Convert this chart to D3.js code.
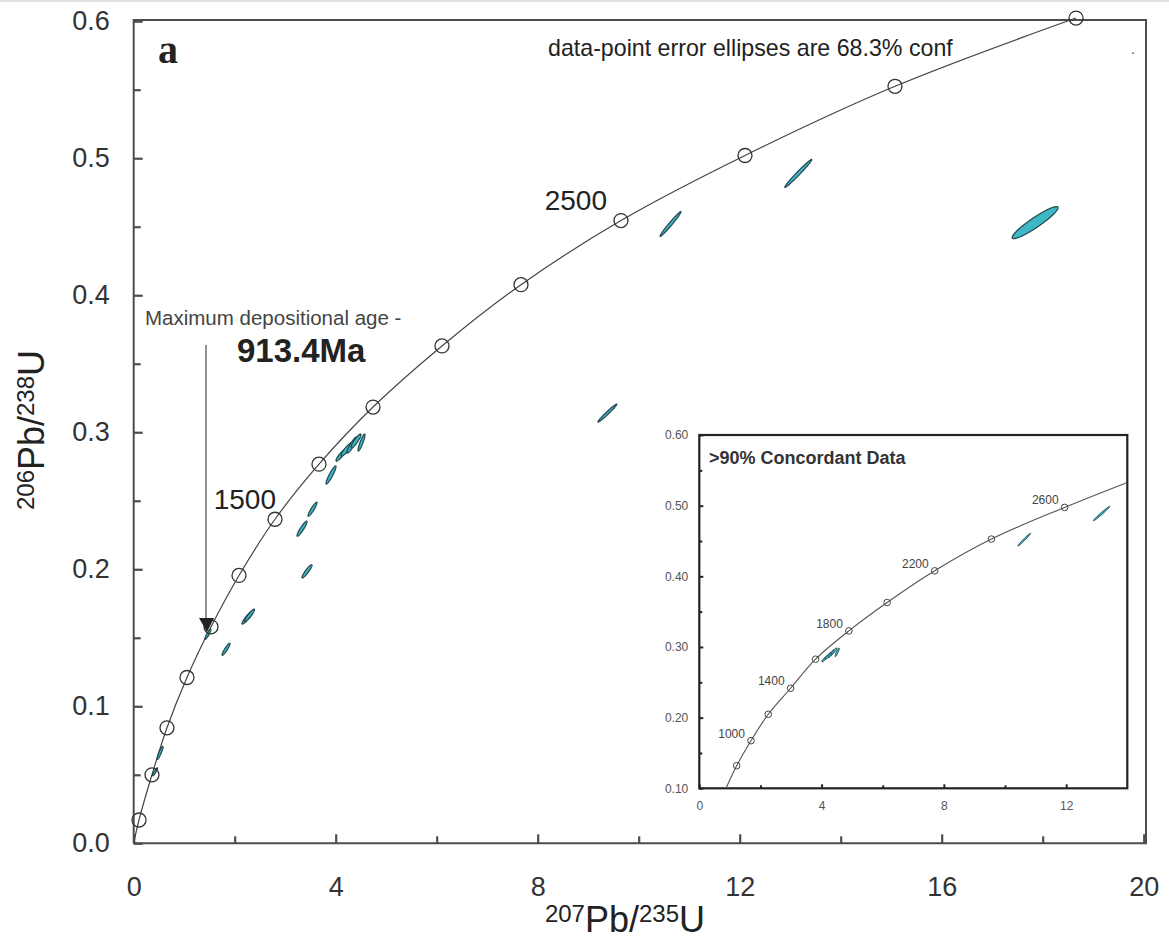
<!DOCTYPE html>
<html><head><meta charset="utf-8">
<script src="https://cdn.jsdelivr.net/npm/d3@7"></script>
<style>body{margin:0;background:#fff} svg{display:block}</style>
</head><body><svg id="c" width="1169" height="941"></svg>
<script>
// ---------------- DATA ----------------
// main concordia curve (207Pb/235U, 206Pb/238U)
const concX = [0, 0.105, 0.362, 0.659, 1.055, 1.531, 2.085, 2.798, 3.669, 4.739, 6.105, 7.669, 9.649, 12.105, 15.075, 18.66];
const concY = [0, 0.017, 0.050, 0.0843, 0.121, 0.158, 0.1955, 0.2365, 0.2767, 0.3184, 0.363, 0.4077, 0.4545, 0.502, 0.5525, 0.6023];
const concMarkerIdx = [1,2,3,4,5,6,7,8,9,10,11,12,13,14,15];
const concLabels = ["1500", "2500"];
const concLabelIdx = [7, 12];

// data-point error ellipses: centre, 1-sigma errors, error correlation
const ellX   = [17.85, 13.16, 10.63, 9.38, 3.907, 4.105, 4.224, 4.323, 4.402, 4.511, 3.541, 3.333, 3.432, 2.253, 2.293, 1.828, 1.471, 0.521, 0.422];
const ellY   = [0.453, 0.4889, 0.452, 0.314, 0.2688, 0.2833, 0.2877, 0.2907, 0.2936, 0.2925, 0.2438, 0.2296, 0.1985, 0.1648, 0.1663, 0.1416, 0.1526, 0.066, 0.0522];
const ellSX  = [0.455, 0.267, 0.208, 0.188, 0.099, 0.099, 0.119, 0.099, 0.099, 0.069, 0.089, 0.099, 0.099, 0.109, 0.10, 0.079, 0.059, 0.059, 0.05];
const ellSY  = [0.0117, 0.0102, 0.0091, 0.0066, 0.0066, 0.0044, 0.0051, 0.0059, 0.0051, 0.0062, 0.0051, 0.0055, 0.0048, 0.0048, 0.0046, 0.0044, 0.0037, 0.0048, 0.0029];
const ellRho = [0.93, 0.985, 0.982, 0.98, 0.92, 0.9, 0.9, 0.9, 0.9, 0.9, 0.92, 0.92, 0.92, 0.92, 0.92, 0.92, 0.9, 0.9, 0.9];
const ellConcordant = [false, true, true, false, false, true, true, true, true, true, false, false, false, false, false, false, false, false, false];

// inset concordia
const inConcX = [0.873, 1.222, 1.69, 2.255, 2.987, 3.804, 4.892, 6.144, 7.70, 9.556, 11.95, 13.98];
const inConcY = [0.10, 0.132, 0.1674, 0.2048, 0.2416, 0.2827, 0.3228, 0.3629, 0.4078, 0.4527, 0.4975, 0.5325];
const inMarkerIdx = [1,2,3,4,5,6,7,8,9,10];
const inLabels = ["1000", "1400", "1800", "2200", "2600"];
const inLabelIdx = [2, 4, 6, 8, 10];

// ticks
const xMajor = [0, 4, 8, 12, 16, 20];
const xMinor = [2, 6, 10, 14, 18];
const yMajor = [0, 0.1, 0.2, 0.3, 0.4, 0.5, 0.6];
const yMinor = [0.05, 0.15, 0.25, 0.35, 0.45, 0.55];
const inXMajor = [0, 4, 8, 12];
const inXMinor = [2, 6, 10];
const inYMajor = [0.10, 0.20, 0.30, 0.40, 0.50, 0.60];
const inYMinor = [0.15, 0.25, 0.35, 0.45, 0.55];

// texts
const panelLetter = "a";
const noteText = "data-point error ellipses are 68.3% conf";
const annotLine1 = "Maximum depositional age -";
const annotLine2 = "913.4Ma";
const insetTitle = ">90% Concordant Data";

// ---------------- DRAW ----------------
const svg = d3.select("#c");
const W = 1169, H = 941;
const L = 133.7, R = 1143.7, T = 21.2, B = 843.3;
const x = d3.scaleLinear().domain([0, 20]).range([L, R]);
const y = d3.scaleLinear().domain([0, 0.6]).range([B, T]);

const axisCol = "#4d4d4d";
const ellFill = "#3db6c6", ellStroke = "#22474c";
const ff = "Liberation Sans, Arial, sans-serif";

// faint top border line
svg.append("line").attr("x1", 0).attr("x2", W).attr("y1", 1).attr("y2", 1).attr("stroke", "#d9d9d9").attr("stroke-width", 1.5);

// frame
svg.append("path").attr("d", `M${L},${B} L${L},20 L1146,20 L1146,${B} L${L},${B}`)
  .attr("fill", "none").attr("stroke", axisCol).attr("stroke-width", 2);

function styleAxis(g) {
  g.select(".domain").remove();
  g.selectAll(".tick line").attr("stroke", axisCol).attr("stroke-width", 2.2);
}
svg.append("g").attr("transform", `translate(${L},0)`)
  .call(d3.axisRight(y).tickValues(yMajor).tickSize(9).tickFormat("")).call(styleAxis);
svg.append("g").attr("transform", `translate(${L},0)`)
  .call(d3.axisRight(y).tickValues(yMinor).tickSize(7).tickFormat("")).call(styleAxis);
svg.append("g").attr("transform", `translate(0,${B})`)
  .call(d3.axisTop(x).tickValues(xMajor).tickSize(9).tickFormat("")).call(styleAxis);
svg.append("g").attr("transform", `translate(0,${B})`)
  .call(d3.axisTop(x).tickValues(xMinor).tickSize(7).tickFormat("")).call(styleAxis);

const yl = svg.append("g").attr("transform", `translate(${L},0)`)
  .call(d3.axisLeft(y).tickValues(yMajor).tickSize(0).tickPadding(24).tickFormat(d3.format(".1f")));
yl.select(".domain").remove();
yl.selectAll("text").attr("font-family", ff).attr("font-size", 27).attr("fill", "#333");
const xl = svg.append("g").attr("transform", `translate(0,${B})`)
  .call(d3.axisBottom(x).tickValues(xMajor).tickSize(0).tickPadding(34).tickFormat(d3.format("d")));
xl.select(".domain").remove();
xl.selectAll("text").attr("font-family", ff).attr("font-size", 27).attr("fill", "#333");

// axis titles
const yt = svg.append("text").attr("transform", "translate(44,430) rotate(-90)")
  .attr("text-anchor", "middle").attr("font-family", ff).attr("font-size", 36).attr("fill", "#222");
yt.append("tspan").attr("font-size", 24).attr("dy", -10).text("206");
yt.append("tspan").attr("dy", 10).text("Pb/");
yt.append("tspan").attr("font-size", 24).attr("dy", -10).text("238");
yt.append("tspan").attr("dy", 10).text("U");

const xt = svg.append("text").attr("x", 625).attr("y", 932)
  .attr("text-anchor", "middle").attr("font-family", ff).attr("font-size", 36).attr("fill", "#222");
xt.append("tspan").attr("font-size", 24).attr("dy", -10).text("207");
xt.append("tspan").attr("dy", 10).text("Pb/");
xt.append("tspan").attr("font-size", 24).attr("dy", -10).text("235");
xt.append("tspan").attr("dy", 10).text("U");

// concordia curve
const concPts = concX.map((v, i) => [v, concY[i]]);
const line = d3.line().x(d => x(d[0])).y(d => y(d[1])).curve(d3.curveCatmullRom.alpha(0.5));
svg.append("path").attr("d", line(concPts)).attr("fill", "none").attr("stroke", "#444").attr("stroke-width", 1.2);

// ellipses
function ellPath(i, xs, ys) {
  const s = Math.sqrt(1 - ellRho[i] * ellRho[i]);
  const pts = d3.range(0, 90).map(k => {
    const t = k / 90 * 2 * Math.PI;
    return [xs(ellX[i] + ellSX[i] * Math.cos(t)), ys(ellY[i] + ellSY[i] * (ellRho[i] * Math.cos(t) + s * Math.sin(t)))];
  });
  return d3.line()(pts) + "Z";
}
svg.append("g").selectAll("path").data(d3.range(ellX.length)).join("path")
  .attr("d", i => ellPath(i, x, y)).attr("fill", ellFill).attr("stroke", ellStroke).attr("stroke-width", 1.2);

// concordia markers
svg.append("g").selectAll("circle").data(concMarkerIdx).join("circle")
  .attr("cx", i => x(concX[i])).attr("cy", i => y(concY[i])).attr("r", 7)
  .attr("fill", "none").attr("stroke", "#333").attr("stroke-width", 1.3);

const lblOff = {"1500": [1, -10], "2500": [-14, -11]};
svg.append("g").selectAll("text").data(concLabelIdx).join("text")
  .attr("x", (i, k) => x(concX[i]) + lblOff[concLabels[k]][0])
  .attr("y", (i, k) => y(concY[i]) + lblOff[concLabels[k]][1])
  .attr("text-anchor", "end").attr("font-family", ff).attr("font-size", 28).attr("fill", "#222")
  .text((i, k) => concLabels[k]);

// panel letter + note
svg.append("text").attr("x", 158).attr("y", 63).attr("font-family", "Liberation Serif, Times New Roman, serif")
  .attr("font-weight", "bold").attr("font-size", 40).attr("fill", "#222").text(panelLetter);
svg.append("text").attr("x", 548).attr("y", 56).attr("font-family", ff).attr("font-size", 23.2).attr("fill", "#222").text(noteText);
svg.append("text").attr("x", 1131).attr("y", 54).attr("font-family", ff).attr("font-size", 14).attr("fill", "#444").text(".");

// annotation
svg.append("text").attr("x", 145).attr("y", 325).attr("font-family", ff).attr("font-size", 20.5).attr("fill", "#444").text(annotLine1);
svg.append("text").attr("x", 237).attr("y", 362).attr("font-family", ff).attr("font-weight", "bold").attr("font-size", 33).attr("fill", "#222").text(annotLine2);
svg.append("line").attr("x1", 206).attr("x2", 206).attr("y1", 345).attr("y2", 620).attr("stroke", "#777").attr("stroke-width", 1.6);
svg.append("path").attr("d", "M199,618 L214,618 L207,632 Z").attr("fill", "#222");

// ---------------- INSET ----------------
const iL = 699.3, iR = 1127.3, iT = 435, iB = 788.3;
const ix = d3.scaleLinear().domain([0, 14]).range([iL, iR]);
const iy = d3.scaleLinear().domain([0.1, 0.6]).range([iB, iT]);
const inset = svg.append("g");
inset.append("rect").attr("x", iL).attr("y", iT).attr("width", iR - iL).attr("height", iB - iT)
  .attr("fill", "#fff").attr("stroke", "#222").attr("stroke-width", 2.2);
svg.append("defs").append("clipPath").attr("id", "ic").append("rect")
  .attr("x", iL).attr("y", iT).attr("width", iR - iL).attr("height", iB - iT);

function styleIn(g) {
  g.select(".domain").remove();
  g.selectAll(".tick line").attr("stroke", "#222").attr("stroke-width", 2);
}
inset.append("g").attr("transform", `translate(${iL},0)`)
  .call(d3.axisRight(iy).tickValues(inYMajor).tickSize(4).tickFormat("")).call(styleIn);
inset.append("g").attr("transform", `translate(${iL},0)`)
  .call(d3.axisRight(iy).tickValues(inYMinor).tickSize(3).tickFormat("")).call(styleIn);
inset.append("g").attr("transform", `translate(0,${iB})`)
  .call(d3.axisTop(ix).tickValues(inXMajor).tickSize(4).tickFormat("")).call(styleIn);
inset.append("g").attr("transform", `translate(0,${iB})`)
  .call(d3.axisTop(ix).tickValues(inXMinor).tickSize(3).tickFormat("")).call(styleIn);

const iyl = inset.append("g").attr("transform", `translate(${iL},0)`)
  .call(d3.axisLeft(iy).tickValues(inYMajor).tickSize(0).tickPadding(11).tickFormat(d3.format(".2f")));
iyl.select(".domain").remove();
iyl.selectAll("text").attr("font-family", ff).attr("font-size", 12).attr("fill", "#555");
const ixl = inset.append("g").attr("transform", `translate(0,${iB})`)
  .call(d3.axisBottom(ix).tickValues(inXMajor).tickSize(0).tickPadding(13).tickFormat(d3.format("d")));
ixl.select(".domain").remove();
ixl.selectAll("text").attr("font-family", ff).attr("font-size", 12).attr("fill", "#555");

inset.append("text").attr("x", 709).attr("y", 464).attr("font-family", ff).attr("font-weight", "bold")
  .attr("font-size", 18).attr("fill", "#333").text(insetTitle);

const ic = inset.append("g").attr("clip-path", "url(#ic)");
const inPts = inConcX.map((v, i) => [v, inConcY[i]]);
const iline = d3.line().x(d => ix(d[0])).y(d => iy(d[1])).curve(d3.curveCatmullRom.alpha(0.5));
ic.append("path").attr("d", iline(inPts)).attr("fill", "none").attr("stroke", "#555").attr("stroke-width", 1.1);

ic.append("g").selectAll("path").data(d3.range(ellX.length).filter(i => ellConcordant[i])).join("path")
  .attr("d", i => ellPath(i, ix, iy)).attr("fill", ellFill).attr("stroke", ellStroke).attr("stroke-width", 1);

ic.append("g").selectAll("circle").data(inMarkerIdx).join("circle")
  .attr("cx", i => ix(inConcX[i])).attr("cy", i => iy(inConcY[i])).attr("r", 3.3)
  .attr("fill", "none").attr("stroke", "#444").attr("stroke-width", 1);

inset.append("g").selectAll("text").data(inLabelIdx).join("text")
  .attr("x", i => ix(inConcX[i]) - 6).attr("y", i => iy(inConcY[i]) - 3)
  .attr("text-anchor", "end").attr("font-family", ff).attr("font-size", 12).attr("fill", "#444")
  .text((i, k) => inLabels[k]);
</script></body></html>
